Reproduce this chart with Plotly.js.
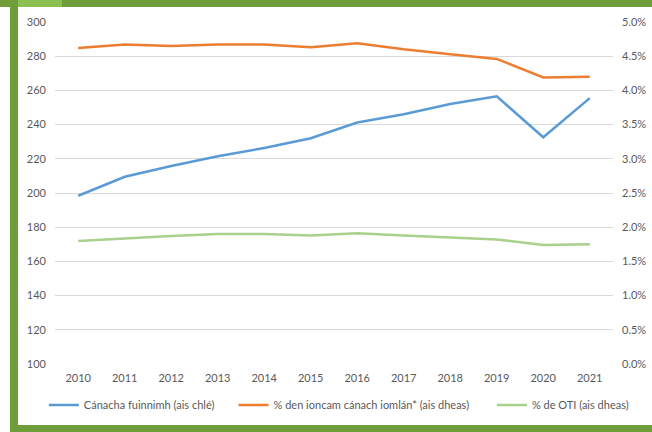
<!DOCTYPE html>
<html>
<head>
<meta charset="utf-8">
<script src="https://cdn.plot.ly/plotly-3.0.1.min.js"></script>
<style>
html,body{margin:0;padding:0;background:#fff;}
#wrap{position:relative;width:652px;height:432px;overflow:hidden;}
#chart{position:absolute;left:0;top:0;width:652px;height:432px;}
.band{position:absolute;pointer-events:none;}
</style>
</head>
<body>
<div id="wrap">
<div id="chart"></div>
<div class="band" style="left:0;top:0;width:652px;height:7px;background:#6f9d3a;"></div>
<div class="band" style="left:10px;top:0;width:52px;height:7px;background:#8cc152;"></div>
<div class="band" style="left:10px;top:0;width:8px;height:432px;background:#6f9d3a;"></div>
<div class="band" style="left:10px;top:425px;width:642px;height:7px;background:#6f9d3a;"></div>
</div>
<script>
var years = ['2010','2011','2012','2013','2014','2015','2016','2017','2018','2019','2020','2021'];
var energyTaxes = [198.4, 209.5, 215.8, 221.5, 226.3, 232.0, 241.2, 246.0, 252.0, 256.5, 232.6, 255.5];
var pctTotalTax = [0.0462, 0.0467, 0.0465, 0.0467, 0.0467, 0.0463, 0.0469, 0.0460, 0.0453, 0.0446, 0.0419, 0.0420];
var pctGNI = [0.0180, 0.0184, 0.0187, 0.0190, 0.0190, 0.0188, 0.0191, 0.0188, 0.0185, 0.0182, 0.0174, 0.0175];
var names = ['Cánacha fuinnimh (ais chlé)', '% den ioncam cánach iomlán* (ais dheas)', '% de OTI (ais dheas)'];
var leftTicks = [100,120,140,160,180,200,220,240,260,280,300];
var rightTicks = [0,0.005,0.01,0.015,0.02,0.025,0.03,0.035,0.04,0.045,0.05];

var txt = '#595959';
var fnt = {family:'Lato, "Liberation Sans", sans-serif', size:11, color:txt};

var traces = [
  {x:years, y:energyTaxes, name:names[0], type:'scatter', mode:'lines', yaxis:'y', legend:'legend',
   line:{color:'#5B9BD5', width:2.5}},
  {x:years, y:pctTotalTax, name:names[1], type:'scatter', mode:'lines', yaxis:'y2', legend:'legend2',
   line:{color:'#ED7D31', width:2.5}},
  {x:years, y:pctGNI, name:names[2], type:'scatter', mode:'lines', yaxis:'y2', legend:'legend3',
   line:{color:'#A9D18E', width:2.5}}
];

function leg(x){
  return {orientation:'h', x:x, xanchor:'left', y:-0.12, yanchor:'middle',
          font:fnt, bgcolor:'rgba(0,0,0,0)', itemwidth:30};
}

var layout = {
  width:652, height:432,
  margin:{l:55, r:39, t:22, b:68},
  paper_bgcolor:'#fff', plot_bgcolor:'#fff',
  font:fnt,
  showlegend:true,
  legend:leg(-0.02),
  legend2:leg(0.32),
  legend3:leg(0.783),
  xaxis:{type:'category', range:[-0.5,11.5], showgrid:false, zeroline:false,
         showline:false, ticks:'', tickfont:fnt, ticklabelstandoff:6, fixedrange:true},
  yaxis:{range:[100,300], tickvals:leftTicks, showgrid:true, gridcolor:'#D9D9D9', gridwidth:1,
         zeroline:false, showline:false, ticks:'', tickfont:fnt, ticklabelstandoff:8},
  yaxis2:{range:[0,0.05], tickvals:rightTicks, tickformat:'.1%', overlaying:'y', side:'right',
          showgrid:false, zeroline:false, showline:false, ticks:'', tickfont:fnt, ticklabelstandoff:8}
};

Plotly.newPlot('chart', traces, layout, {staticPlot:true, displayModeBar:false});
</script>
</body>
</html>
